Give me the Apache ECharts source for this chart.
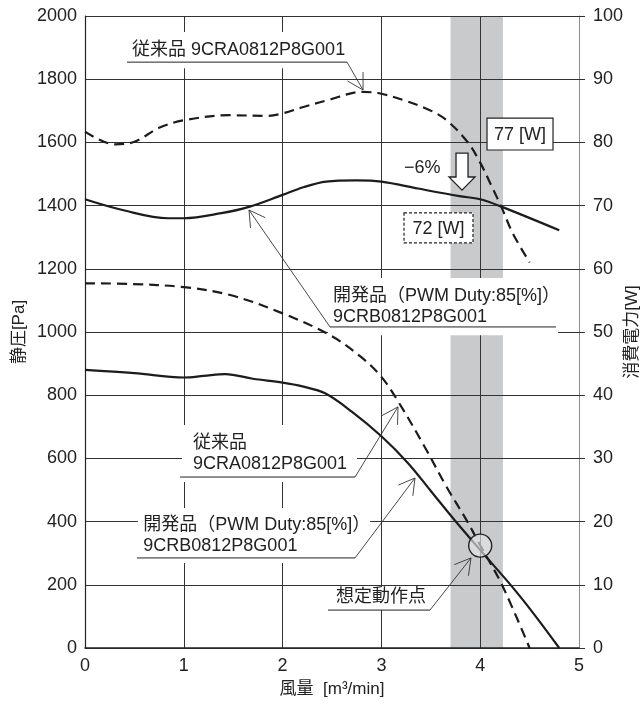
<!DOCTYPE html>
<html>
<head>
<meta charset="utf-8">
<script src="https://cdn.jsdelivr.net/npm/echarts@6/dist/echarts.min.js"></script>
<style>
html, body { margin: 0; padding: 0; background: #fff; }
#chart { width: 642px; height: 706px; }
</style>
</head>
<body>
<div id="chart"></div>
<script>
const FONT = "'Liberation Sans','Noto Sans CJK JP',sans-serif";
const INK = '#222';

// Airflow axis ticks [m3/min]
const flowTicks = [0, 1, 2, 3, 4, 5];

// Static pressure [Pa] against airflow [m3/min]
const convPressure = [[0,1154],[0.46,1152],[1.0,1142],[1.47,1117],[2.0,1059],[2.48,990],[2.79,922],[3.0,858],[3.17,780],[3.45,630],[3.65,515],[3.87,400],[4.0,325],[4.22,200],[4.5,0]];
const devPressure = [[0,880],[0.5,870],[1.0,856],[1.2,861],[1.42,867],[1.7,852],[2.0,840],[2.2,828],[2.43,806],[2.7,748],[3.0,670],[3.27,585],[3.5,497],[3.74,405],[4.0,310],[4.32,195],[4.55,105],[4.8,0]];

// Power consumption [W] against airflow [m3/min]
const convPower = [[0,81.7],[0.3,79.7],[0.5,80.1],[0.75,82.3],[1.0,83.5],[1.46,84.3],[1.84,84.2],[2.0,84.6],[2.21,85.6],[2.46,86.7],[2.81,88.0],[3.0,87.7],[3.22,86.7],[3.49,85.1],[3.66,83.5],[3.87,80.1],[4.0,76.8],[4.13,72.6],[4.22,69.6],[4.33,65.6],[4.5,61.0]];
const devPower = [[0,71.0],[0.38,69.3],[0.84,68.0],[1.0,68.0],[1.38,68.8],[1.66,69.8],[2.0,71.7],[2.21,72.9],[2.44,73.8],[2.75,74.0],[3.0,73.8],[3.37,72.7],[3.79,71.5],[4.0,71.0],[4.22,69.8],[4.8,66.1]];

// Expected operating window and operating point
const operatingBand = [[3.70, 4.23]];
const operatingPoint = [4.0, 324];

// Power readings at the operating point
const powerLabels = ['77 [W]', '72 [W]'];
const reductionLabel = '\u22126%';

// Callout texts
const calloutTexts = [
  ['従来品 9CRA0812P8G001'],
  ['開発品（PWM Duty:85[%]）', '9CRB0812P8G001'],
  ['従来品', '9CRA0812P8G001'],
  ['開発品（PWM Duty:85[%]）', '9CRB0812P8G001'],
  ['想定動作点']
];

// Callout layout in (airflow, pressure) coordinates
const calloutLayout = [
  { text: [0.476, 1892], box: [0.425, 1949, 2.682, 1835], under: [0.425, 2.652, 1854], end: 1, tip: [2.814, 1766] },
  { text: [2.510, 1114], box: [2.459, 1171, 4.787, 990],  under: [2.480, 4.767, 1016], end: 0, tip: [1.660, 1386] },
  { text: [1.093, 649],  box: [0.982, 706, 2.753, 525],   under: [0.962, 2.733, 541],  end: 1, tip: [3.168, 763] },
  { text: [0.590, 389],  box: [0.536, 443, 2.885, 269],   under: [0.526, 2.733, 285],  end: 1, tip: [3.340, 538] },
  { text: [2.540, 161],  box: [2.480, 193, 3.482, 120],   under: [2.460, 3.492, 120],  end: 1, tip: [3.907, 285] }
];

const chart = echarts.init(document.getElementById('chart'), null, { renderer: 'canvas' });

const curveStyle = (dashed) => ({ color: '#1c1c1c', width: 2.2, type: dashed ? [10, 6] : 'solid' });
const plain = (v) => String(v);

chart.setOption({
  animation: false,
  backgroundColor: '#fff',
  grid: { left: 85, right: 63, top: 16, bottom: 58, containLabel: false, outerBoundsMode: 'none' },
  xAxis: {
    type: 'value', min: flowTicks[0], max: flowTicks[flowTicks.length - 1], interval: 1, z: 1,
    name: '風量  [m³/min]', nameLocation: 'middle', nameGap: 33, nameMoveOverlap: false,
    nameTextStyle: { fontFamily: FONT, fontSize: 17, color: INK },
    axisLine: { show: true, lineStyle: { color: INK, width: 1.5 } },
    axisTick: { show: false },
    axisLabel: { fontFamily: FONT, fontSize: 18, color: INK, margin: 9,
      formatter: (v) => flowTicks.includes(v) ? String(v) : '' },
    splitLine: { show: true, lineStyle: { color: ['#333', '#333', '#333', '#333', '#333', '#8a8a8a'], width: 1 } }
  },
  yAxis: [
    {
      type: 'value', min: 0, max: 2000, interval: 200, position: 'left', z: 1,
      name: '静圧[Pa]', nameLocation: 'middle', nameGap: 57, nameRotate: 90, nameMoveOverlap: false,
      nameTextStyle: { fontFamily: FONT, fontSize: 17, color: INK },
      axisLine: { show: true, lineStyle: { color: INK, width: 1.2 } },
      axisTick: { show: false },
      axisLabel: { fontFamily: FONT, fontSize: 18, color: INK, margin: 8, formatter: plain },
      splitLine: { show: true, lineStyle: { color: '#333', width: 1 } }
    },
    {
      type: 'value', min: 0, max: 100, interval: 10, position: 'right', z: 1,
      name: '消費電力[W]', nameLocation: 'middle', nameGap: 45, nameRotate: 90, nameMoveOverlap: false,
      nameTextStyle: { fontFamily: FONT, fontSize: 17, color: INK },
      axisLine: { show: true, lineStyle: { color: '#8a8a8a', width: 1 } },
      axisTick: { show: true, length: 6, lineStyle: { color: '#333', width: 1 } },
      axisLabel: { fontFamily: FONT, fontSize: 18, color: INK, margin: 14, formatter: plain },
      splitLine: { show: false }
    }
  ],
  series: [
    {
      type: 'custom', z: 0, silent: true, data: operatingBand,
      encode: { x: [0, 1] },
      renderItem: (params, api) => {
        const a = api.coord([api.value(0), 2000]);
        const b = api.coord([api.value(1), 0]);
        return { type: 'rect', shape: { x: a[0], y: a[1], width: b[0] - a[0], height: b[1] - a[1] },
                 style: { fill: '#c9cacc' } };
      }
    },
    { type: 'line', yAxisIndex: 0, data: convPressure, showSymbol: false, smooth: 0.35, lineStyle: curveStyle(true), z: 3 },
    { type: 'line', yAxisIndex: 0, data: devPressure, showSymbol: false, smooth: 0.35, lineStyle: curveStyle(false), z: 3 },
    { type: 'line', yAxisIndex: 1, data: convPower, showSymbol: false, smooth: 0.35, lineStyle: curveStyle(true), z: 3 },
    { type: 'line', yAxisIndex: 1, data: devPower, showSymbol: false, smooth: 0.35, lineStyle: curveStyle(false), z: 3 }
  ]
});

// ---- callouts, boxes and markers drawn on top of the plot ----
const toPx = (x, p) => chart.convertToPixel({ xAxisIndex: 0, yAxisIndex: 0 }, [x, p]);
const textFont = '18px ' + FONT;
const LINE_STEP = 21;

function arrowHead(tip, from, len, half) {
  const a = Math.atan2(from[1] - tip[1], from[0] - tip[0]);
  return [
    [tip[0] + len * Math.cos(a + half), tip[1] + len * Math.sin(a + half)],
    [tip[0], tip[1]],
    [tip[0] + len * Math.cos(a - half), tip[1] + len * Math.sin(a - half)]
  ];
}

function boxRect(b) {
  const p0 = toPx(b[0], b[1]);
  const p1 = toPx(b[2], b[3]);
  return { x: p0[0], y: p0[1], width: p1[0] - p0[0], height: p1[1] - p0[1] };
}

const g = [];

calloutLayout.forEach((c, i) => {
  g.push({ type: 'rect', z: 2, silent: true, shape: boxRect(c.box), style: { fill: '#fff' } });
  const t = toPx(c.text[0], c.text[1]);
  calloutTexts[i].forEach((line, k) => {
    g.push({ type: 'text', z: 6, silent: true, x: t[0], y: t[1] + k * LINE_STEP,
      style: { text: line, font: textFont, fill: INK, align: 'left', verticalAlign: 'middle' } });
  });
  const u0 = toPx(c.under[0], c.under[2]);
  const u1 = toPx(c.under[1], c.under[2]);
  g.push({ type: 'line', z: 6, silent: true, shape: { x1: u0[0], y1: u0[1], x2: u1[0], y2: u1[1] },
    style: { stroke: INK, lineWidth: 1 } });
  const from = c.end ? u1 : u0;
  const tip = toPx(c.tip[0], c.tip[1]);
  g.push({ type: 'line', z: 6, silent: true, shape: { x1: from[0], y1: from[1], x2: tip[0], y2: tip[1] },
    style: { stroke: '#333', lineWidth: 0.9 } });
  g.push({ type: 'polyline', z: 6, silent: true, shape: { points: arrowHead(tip, from, 18, Math.PI / 6) },
    style: { stroke: '#333', lineWidth: 0.9, fill: null } });
});

// power value boxes
const box77 = boxRect([4.069, 1677, 4.737, 1576]);
g.push({ type: 'rect', z: 6, silent: true, shape: box77, style: { fill: '#fff', stroke: INK, lineWidth: 1.2 } });
g.push({ type: 'text', z: 7, silent: true, x: box77.x + box77.width / 2, y: box77.y + box77.height / 2 + 1,
  style: { text: powerLabels[0], font: textFont, fill: INK, align: 'center', verticalAlign: 'middle' } });

const box72 = boxRect([3.229, 1377, 3.927, 1282]);
g.push({ type: 'rect', z: 6, silent: true, shape: box72, style: { fill: '#fff', stroke: INK, lineWidth: 1.2, lineDash: [3, 2] } });
g.push({ type: 'text', z: 7, silent: true, x: box72.x + box72.width / 2, y: box72.y + box72.height / 2 + 1,
  style: { text: powerLabels[1], font: textFont, fill: INK, align: 'center', verticalAlign: 'middle' } });

// reduction label and hollow arrow
const rl = toPx(3.229, 1519);
g.push({ type: 'text', z: 7, silent: true, x: rl[0], y: rl[1],
  style: { text: reductionLabel, font: textFont, fill: INK, align: 'left', verticalAlign: 'middle' } });

const aTop = toPx(3.816, 1566);
const aBase = toPx(3.816, 1490.5);
const aTip = toPx(3.816, 1449);
const sw = 6, hw = 13;
g.push({ type: 'polygon', z: 7, silent: true, shape: { points: [
    [aTop[0] - sw, aTop[1]], [aTop[0] + sw, aTop[1]], [aTop[0] + sw, aBase[1]], [aTop[0] + hw, aBase[1]],
    [aTip[0], aTip[1]], [aTop[0] - hw, aBase[1]], [aTop[0] - sw, aBase[1]] ] },
  style: { fill: '#fff', stroke: INK, lineWidth: 1.3 } });

// operating point marker
const op = toPx(operatingPoint[0], operatingPoint[1]);
g.push({ type: 'circle', z: 7, silent: true, shape: { cx: op[0], cy: op[1], r: 11.5 },
  style: { fill: 'rgba(228,228,228,0.65)', stroke: INK, lineWidth: 1.4 } });

chart.setOption({ graphic: g });
</script>
</body>
</html>
